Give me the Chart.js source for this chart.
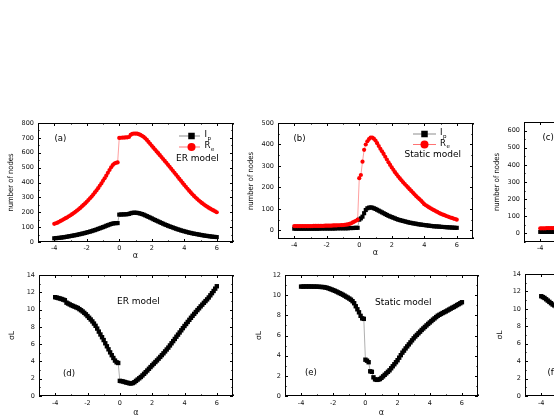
<!DOCTYPE html>
<html>
<head>
<meta charset="utf-8">
<script src="https://cdn.jsdelivr.net/npm/chart.js@4.4.1/dist/chart.umd.min.js"></script>
<style>
html, body { margin: 0; padding: 0; width: 554px; height: 415px; overflow: hidden; background: #fff; }
canvas { position: absolute; }
</style>
</head>
<body>
<canvas id="pa"></canvas>
<canvas id="pb"></canvas>
<canvas id="pc"></canvas>
<canvas id="pd"></canvas>
<canvas id="pe"></canvas>
<canvas id="pf"></canvas>
<script>
// DATA (alpha in steps of 0.1)
const alpha = [
  -4, -3.9, -3.8, -3.7, -3.6, -3.5, -3.4, -3.3, -3.2, -3.1,
  -3, -2.9, -2.8, -2.7, -2.6, -2.5, -2.4, -2.3, -2.2, -2.1,
  -2, -1.9, -1.8, -1.7, -1.6, -1.5, -1.4, -1.3, -1.2, -1.1,
  -1, -0.9, -0.8, -0.7, -0.6, -0.5, -0.4, -0.3, -0.2, -0.1,
  0, 0.1, 0.2, 0.3, 0.4, 0.5, 0.6, 0.7, 0.8, 0.9,
  1, 1.1, 1.2, 1.3, 1.4, 1.5, 1.6, 1.7, 1.8, 1.9,
  2, 2.1, 2.2, 2.3, 2.4, 2.5, 2.6, 2.7, 2.8, 2.9,
  3, 3.1, 3.2, 3.3, 3.4, 3.5, 3.6, 3.7, 3.8, 3.9,
  4, 4.1, 4.2, 4.3, 4.4, 4.5, 4.6, 4.7, 4.8, 4.9,
  5, 5.1, 5.2, 5.3, 5.4, 5.5, 5.6, 5.7, 5.8, 5.9,
  6
];

// (a) ER model
const erRe = [
  122, 126, 130, 136, 142, 148, 154, 160, 166, 173,
  180, 187, 195, 203, 211, 220, 229, 239, 249, 259,
  270, 282, 294, 306, 319, 333, 347, 362, 378, 394,
  411, 428, 446, 465, 484, 502, 517, 527, 532, 535,
  700, 701, 702, 702, 703, 704, 706, 720, 727, 729,
  729, 728, 725, 720, 714, 707, 697, 686, 673, 660,
  647, 634, 622, 609, 597, 584, 571, 558, 545, 532,
  519, 506, 492, 479, 465, 452, 438, 424, 411, 397,
  384, 371, 358, 345, 333, 321, 310, 299, 289, 279,
  270, 261, 253, 245, 238, 231, 224, 218, 212, 206,
  200
];
const erIp = [
  25, 26, 27, 28, 29, 31, 32, 34, 36, 38,
  40, 42, 44, 46, 48, 51, 53, 56, 58, 61,
  64, 67, 70, 73, 77, 80, 84, 88, 92, 96,
  100, 104, 109, 113, 117, 121, 124, 126, 127, 127,
  184, 185, 185, 186, 186, 187, 189, 193, 196, 197,
  197, 196, 194, 191, 188, 184, 179, 174, 169, 164,
  159, 153, 148, 143, 138, 133, 128, 123, 118, 114,
  109, 105, 101, 97, 93, 89, 85, 82, 78, 75,
  72, 69, 66, 63, 61, 58, 56, 54, 52, 50,
  48, 46, 44, 42, 41, 39, 38, 36, 35, 34,
  33
];

// (b) Static model
const stRe = [
  20, 20, 20, 20, 20, 20, 20, 20, 20, 20,
  20, 20, 21, 21, 21, 21, 21, 21, 21, 22,
  22, 22, 22, 22, 23, 23, 23, 24, 24, 25,
  25, 26, 27, 28, 30, 33, 37, 41, 45, 50,
  243, 258, 320, 375, 400, 415, 425, 432, 432, 427,
  418, 406, 393, 380, 368, 356, 343, 330, 317, 305,
  293, 282, 271, 261, 251, 242, 233, 224, 216, 208,
  200, 192, 184, 176, 168, 160, 153, 146, 139, 131,
  122, 117, 112, 107, 103, 98, 94, 90, 86, 82,
  78, 75, 72, 69, 66, 63, 60, 58, 55, 53,
  50
];
const stIp = [
  8, 8, 8, 8, 8, 8, 8, 8, 8, 8,
  8, 8, 8, 8, 8, 8, 9, 9, 9, 9,
  9, 9, 9, 9, 9, 9, 10, 10, 10, 10,
  10, 10, 10, 10, 11, 11, 11, 12, 12, 12,
  50, 56, 64, 80, 95, 103, 106, 107, 106, 103,
  100, 96, 92, 88, 84, 80, 76, 72, 68, 65,
  62, 59, 56, 53, 50, 48, 46, 44, 42, 40,
  38, 36, 35, 33, 32, 31, 29, 28, 27, 26,
  25, 24, 23, 22, 21, 20, 19, 19, 18, 18,
  17, 16, 16, 15, 15, 14, 14, 13, 13, 12,
  12
];

// (c) only the left edge is visible
const cRe = [30, 30, 30, 30, 31, 31, 31, 31, 31, 32, 32];
const cIp = [9, 9, 9, 9, 9, 9, 9, 9, 9, 9, 9];

// (d) ER model sigma_L
const erSig = [
  11.43, 11.38, 11.33, 11.28, 11.22, 11.15, 11.08, 10.8, 10.7, 10.6,
  10.5, 10.42, 10.34, 10.26, 10.18, 10.05, 9.92, 9.78, 9.62, 9.45,
  9.25, 9.05, 8.85, 8.63, 8.38, 8.12, 7.8, 7.45, 7.12, 6.8,
  6.47, 6.1, 5.75, 5.4, 5.05, 4.72, 4.4, 4.1, 3.9, 3.82,
  1.75, 1.72, 1.68, 1.62, 1.56, 1.52, 1.46, 1.45, 1.5, 1.6,
  1.75, 1.9, 2.05, 2.2, 2.38, 2.57, 2.76, 2.95, 3.15, 3.35,
  3.55, 3.74, 3.93, 4.12, 4.32, 4.52, 4.73, 4.94, 5.16, 5.38,
  5.6, 5.85, 6.1, 6.35, 6.6, 6.86, 7.1, 7.35, 7.6, 7.85,
  8.1, 8.33, 8.57, 8.81, 9.05, 9.28, 9.5, 9.72, 9.94, 10.15,
  10.37, 10.57, 10.78, 10.98, 11.18, 11.4, 11.65, 11.9, 12.15, 12.42,
  12.7
];

// (e) Static model sigma_L
const stSig = [
  10.85, 10.85, 10.86, 10.86, 10.86, 10.86, 10.86, 10.85, 10.85, 10.85,
  10.84, 10.83, 10.82, 10.81, 10.8, 10.77, 10.73, 10.68, 10.62, 10.56,
  10.5, 10.43, 10.36, 10.28, 10.2, 10.13, 10.04, 9.95, 9.85, 9.76,
  9.66, 9.55, 9.4, 9.2, 8.9, 8.6, 8.3, 7.95, 7.7, 7.65,
  3.6, 3.5, 3.35, 2.45, 2.4, 1.85, 1.65, 1.6, 1.62, 1.68,
  1.8, 1.95, 2.1, 2.25, 2.4, 2.55, 2.75, 2.95, 3.15, 3.35,
  3.55, 3.8, 4.05, 4.3, 4.5, 4.72, 4.92, 5.12, 5.32, 5.52,
  5.72, 5.9, 6.06, 6.22, 6.38, 6.55, 6.7, 6.85, 7.0, 7.15,
  7.29, 7.43, 7.57, 7.7, 7.83, 7.96, 8.05, 8.14, 8.23, 8.31,
  8.39, 8.48, 8.57, 8.66, 8.75, 8.83, 8.92, 9.02, 9.11, 9.2,
  9.3
];

// (f) only the left edge is visible
const fSig = [11.45, 11.35, 11.25, 11.1, 10.95, 10.8, 10.65, 10.5, 10.4, 10.3, 10.2];

// tick labels
const xTicks = [-4, -2, 0, 2, 4, 6];
const yTicksA = [0, 100, 200, 300, 400, 500, 600, 700, 800];
const yTicksB = [0, 100, 200, 300, 400, 500];
const yTicksC = [0, 100, 200, 300, 400, 500, 600];
const yTicksD = [0, 2, 4, 6, 8, 10, 12, 14];
const yTicksE = [0, 2, 4, 6, 8, 10, 12];

// layout of the canvas around each plot box
const PAD_L = 40, PAD_T = 10, PAD_R = 10, PAD_B = 24;
const FONT = '"DejaVu Sans", "Liberation Sans", sans-serif';
const NARROW = '"Liberation Sans Narrow", "DejaVu Sans Condensed", sans-serif';

function marker(ctx, shape, x, y, r, color) {
    ctx.fillStyle = color;
    ctx.beginPath();
    if (shape === 'rect') {
        const s = r * Math.SQRT1_2;
        ctx.rect(x - s, y - s, 2 * s, 2 * s);
    } else {
        ctx.arc(x, y, r, 0, Math.PI * 2);
    }
    ctx.fill();
}

// frame with inward ticks on all sides, notes and legend
const framePlugin = {
    id: 'frame',
    afterDatasetsDraw(chart, args, opts) {
        const { ctx, chartArea: a, scales: { x, y } } = chart;
        ctx.save();
        ctx.strokeStyle = '#000';
        ctx.lineWidth = 1;
        ctx.strokeRect(a.left + 0.5, a.top + 0.5, a.right - a.left - 1, a.bottom - a.top - 1);

        const drawTicks = (scale, major) => {
            const half = (major[1] - major[0]) / 2;
            for (let v = major[0] - 2 * half; v <= scale.max + 1e-9; v += half) {
                if (v < scale.min - 1e-9) continue;
                const isMajor = major.some(m => Math.abs(m - v) < 1e-9);
                const len = isMajor ? 3 : 1.6;
                const p = Math.round(scale.getPixelForValue(v)) + 0.5;
                ctx.beginPath();
                if (scale.isHorizontal()) {
                    ctx.moveTo(p, a.bottom); ctx.lineTo(p, a.bottom - len);
                    ctx.moveTo(p, a.top); ctx.lineTo(p, a.top + len);
                } else {
                    ctx.moveTo(a.left, p); ctx.lineTo(a.left + len, p);
                    ctx.moveTo(a.right, p); ctx.lineTo(a.right - len, p);
                }
                ctx.stroke();
            }
        };
        drawTicks(x, opts.xMajor);
        drawTicks(y, opts.yMajor);

        ctx.fillStyle = '#000';
        ctx.textBaseline = 'middle';
        ctx.textAlign = 'left';
        (opts.notes || []).forEach(n => {
            ctx.font = n.size + 'px ' + FONT;
            ctx.fillText(n.text, a.left + n.dx, a.top + n.dy);
        });

        const lg = opts.legend;
        if (lg) {
            chart.data.datasets.forEach((ds, i) => {
                const yy = a.top + lg.dy[i];
                ctx.strokeStyle = ds.borderColor;
                ctx.lineWidth = 1;
                ctx.beginPath();
                ctx.moveTo(a.left + lg.line[0], yy);
                ctx.lineTo(a.left + lg.line[1], yy);
                ctx.stroke();
                marker(ctx, ds.pointStyle, a.left + lg.mx, yy, ds.pointStyle === 'rect' ? 4.6 : 4, ds.pointBackgroundColor);
                const [main, sub] = ds.label.split('_');
                ctx.fillStyle = '#000';
                ctx.font = '8.5px ' + FONT;
                ctx.fillText(main, a.left + lg.tx, yy - 1);
                const w = ctx.measureText(main).width;
                ctx.font = '5.5px ' + FONT;
                ctx.fillText(sub, a.left + lg.tx + w + 0.5, yy + 2.5);
            });
        }
        ctx.restore();
    }
};

function panel(id, box, p) {
    const cv = document.getElementById(id);
    cv.width = box.r - box.l + PAD_L + PAD_R;
    cv.height = box.b - box.t + PAD_T + PAD_B;
    cv.style.left = (box.l - PAD_L) + 'px';
    cv.style.top = (box.t - PAD_T) + 'px';

    new Chart(cv, {
        type: 'line',
        data: {
            datasets: p.series.map(s => ({
                label: s.label,
                data: s.values.map((v, i) => ({ x: alpha[i], y: v })),
                order: s.order,
                borderColor: s.line,
                borderWidth: 0.7,
                pointStyle: s.shape,
                pointRadius: s.r,
                pointBorderWidth: 0,
                pointBackgroundColor: s.color,
                pointBorderColor: s.color,
                backgroundColor: s.color,
                tension: 0
            }))
        },
        options: {
            responsive: false,
            animation: false,
            events: [],
            layout: { padding: { left: 0, top: PAD_T, right: PAD_R, bottom: 0 } },
            plugins: {
                legend: { display: false },
                tooltip: { enabled: false },
                frame: { xMajor: xTicks, yMajor: p.yTicks, notes: p.notes, legend: p.legend }
            },
            scales: {
                x: {
                    type: 'linear', min: -5, max: 7,
                    grid: { display: false, drawTicks: false, tickLength: 0 }, border: { display: false },
                    afterBuildTicks: s => { s.ticks = xTicks.map(v => ({ value: v })); },
                    afterFit: s => { s.height = PAD_B; },
                    ticks: { color: '#111', padding: p.xPad, maxRotation: 0, autoSkip: false, font: { family: FONT, size: 6.5 } },
                    title: { display: true, text: 'α', color: '#111', font: { family: FONT, size: 8 }, padding: { top: 0, bottom: p.titlePad } }
                },
                y: {
                    type: 'linear', min: p.yMin, max: p.yMax,
                    grid: { display: false, drawTicks: false, tickLength: 0 }, border: { display: false },
                    afterBuildTicks: s => { s.ticks = p.yTicks.map(v => ({ value: v })); },
                    afterFit: s => { s.width = PAD_L; },
                    ticks: { color: '#111', padding: 4, autoSkip: false, font: { family: FONT, size: 6.5 } },
                    title: { display: true, text: p.yTitle, color: '#111', font: p.yFont, padding: { top: p.yTitlePad, bottom: 0 } }
                }
            }
        },
        plugins: [framePlugin]
    });
}

const RED = '#ff0000', BLACK = '#000000';
const redLine = 'rgba(255,0,0,0.55)', greyLine = 'rgba(0,0,0,0.45)';
const nodesFont = { family: NARROW, size: 7.6 };
const sigFont = { family: FONT, size: 7.5 };

const twoSeries = (ip, re) => [
    { label: 'I_p', values: ip, color: BLACK, line: greyLine, shape: 'rect', r: 2.9, order: 1 },
    { label: 'R_e', values: re, color: RED, line: redLine, shape: 'circle', r: 2.1, order: 0 }
];
const oneSeries = v => [{ label: 'σ_L', values: v, color: BLACK, line: greyLine, shape: 'rect', r: 3.1, order: 0 }];

panel('pa', { l: 38, t: 123, r: 233, b: 242 }, {
    series: twoSeries(erIp, erRe), yMin: 0, yMax: 800, yTicks: yTicksA,
    yTitle: 'number of nodes', yFont: nodesFont, yTitlePad: 8.4, xPad: 2, titlePad: 5,
    notes: [{ text: '(a)', dx: 16.5, dy: 15.5, size: 8.5 }, { text: 'ER model', dx: 138, dy: 35.5, size: 9 }],
    legend: { dy: [13, 24], line: [141, 162], mx: 153.5, tx: 166.5 }
});
panel('pb', { l: 278, t: 123, r: 473, b: 239 }, {
    series: twoSeries(stIp, stRe), yMin: -40, yMax: 500, yTicks: yTicksB,
    yTitle: 'number of nodes', yFont: nodesFont, yTitlePad: 8.4, xPad: 2, titlePad: 5,
    notes: [{ text: '(b)', dx: 15.5, dy: 15.5, size: 8.5 }, { text: 'Static model', dx: 126.5, dy: 31.5, size: 9 }],
    legend: { dy: [11, 21.5], line: [135, 158], mx: 146.5, tx: 162 }
});
panel('pc', { l: 524, t: 122, r: 719, b: 242 }, {
    series: twoSeries(cIp, cRe), yMin: -50, yMax: 650, yTicks: yTicksC,
    yTitle: 'number of nodes', yFont: nodesFont, yTitlePad: 8.4, xPad: 2, titlePad: 5,
    notes: [{ text: '(c)', dx: 18.5, dy: 16, size: 8.5 }]
});
panel('pd', { l: 39, t: 275, r: 233, b: 396 }, {
    series: oneSeries(erSig), yMin: 0, yMax: 14, yTicks: yTicksD,
    yTitle: 'σL', yFont: sigFont, yTitlePad: 8.5, xPad: 3.5, titlePad: 2.5,
    notes: [{ text: '(d)', dx: 24, dy: 99, size: 8.5 }, { text: 'ER model', dx: 78, dy: 27, size: 9 }]
});
panel('pe', { l: 285, t: 275, r: 478, b: 396 }, {
    series: oneSeries(stSig), yMin: 0, yMax: 12, yTicks: yTicksE,
    yTitle: 'σL', yFont: sigFont, yTitlePad: 9.5, xPad: 3.5, titlePad: 2.5,
    notes: [{ text: '(e)', dx: 20, dy: 98, size: 8.5 }, { text: 'Static model', dx: 90, dy: 27.5, size: 9 }]
});
panel('pf', { l: 525, t: 274, r: 720, b: 396 }, {
    series: oneSeries(fSig), yMin: 0, yMax: 14, yTicks: yTicksD,
    yTitle: 'σL', yFont: sigFont, yTitlePad: 11, xPad: 3.5, titlePad: 2.5,
    notes: [{ text: '(f)', dx: 22.5, dy: 99, size: 8.5 }]
});
</script>
</body>
</html>
